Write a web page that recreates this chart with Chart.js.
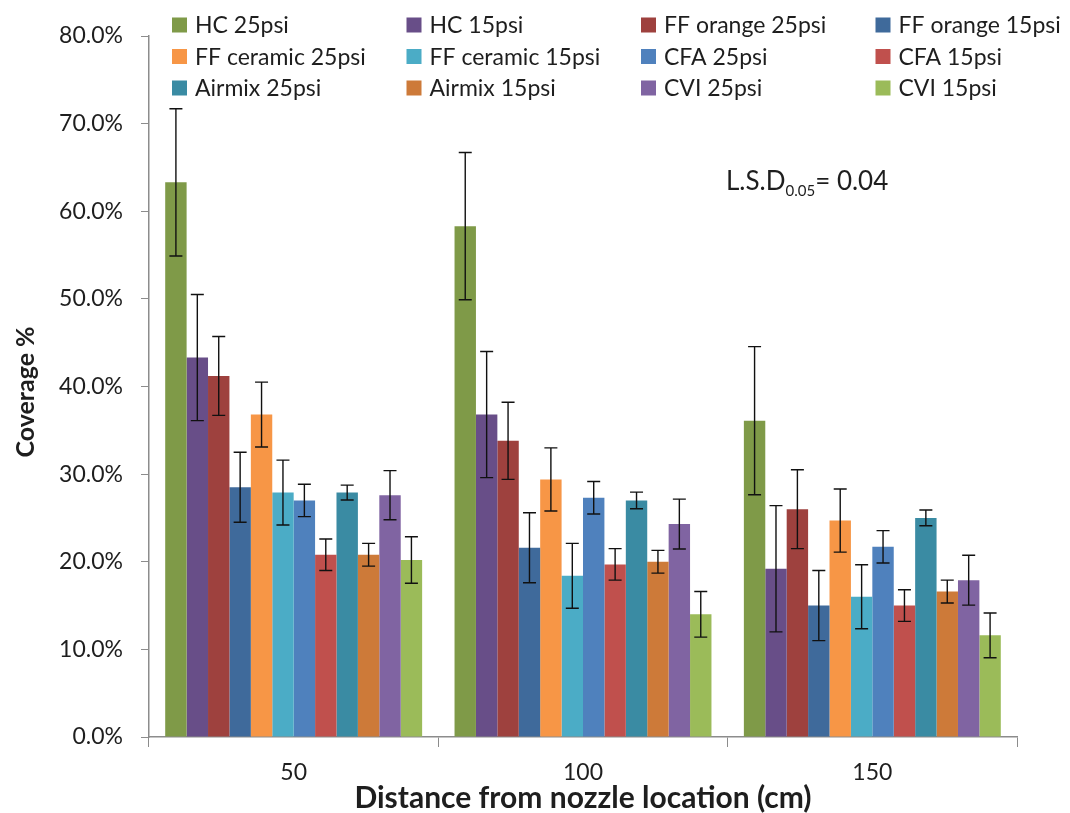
<!DOCTYPE html>
<html>
<head>
<meta charset="utf-8">
<script src="https://cdn.jsdelivr.net/npm/chart.js@4.4.1/dist/chart.umd.min.js"></script>
<style>
  html, body { margin: 0; padding: 0; background: #fff; }
  #wrap { width: 1070px; height: 813px; }
</style>
</head>
<body>
<div id="wrap"><canvas id="coverageChart" width="1070" height="813"></canvas></div>
<script>
// ระยะห่างจากหัวฉีด (cm)
const distances = ['50', '100', '150'];

const seriesNames = [
    'HC 25psi', 'HC 15psi', 'FF orange 25psi', 'FF orange 15psi',
    'FF ceramic 25psi', 'FF ceramic 15psi', 'CFA 25psi', 'CFA 15psi',
    'Airmix 25psi', 'Airmix 15psi', 'CVI 25psi', 'CVI 15psi'
];

const seriesColors = [
    '#7F9A48', '#684E88', '#9E413E', '#3F6A9B',
    '#F79646', '#4BACC6', '#4F81BD', '#C0504D',
    '#3A8BA3', '#CD7A39', '#8064A2', '#9BBB59'
];

// ค่า coverage (%) ของแต่ละชุดที่ระยะ 50 / 100 / 150 cm
const cov50  = [63.3, 43.3, 41.2, 28.5, 36.8, 27.9, 27.0, 20.8, 27.9, 20.8, 27.6, 20.2];
const cov100 = [58.3, 36.8, 33.8, 21.6, 29.4, 18.4, 27.3, 19.7, 27.0, 20.0, 24.3, 14.0];
const cov150 = [36.1, 19.2, 26.0, 15.0, 24.7, 16.0, 21.7, 15.0, 25.0, 16.6, 17.9, 11.6];

// ค่า error bar (+/-)
const err50  = [8.4, 7.2, 4.5, 4.0, 3.7, 3.7, 1.85, 1.8, 0.85, 1.3, 2.8, 2.65];
const err100 = [8.4, 7.2, 4.4, 4.0, 3.6, 3.7, 1.85, 1.8, 0.95, 1.3, 2.85, 2.6];
const err150 = [8.45, 7.2, 4.5, 4.0, 3.6, 3.65, 1.85, 1.8, 0.9, 1.3, 2.85, 2.55];

const yTitle = 'Coverage %';
const lsdLabel = 'L.S.D';
const lsdSub = '0.05';
const lsdValue = '= 0.04';

const FONT = 'Lato, "Open Sans", sans-serif';
const TEXT = '#1e1e1e';
const AXIS = '#8c8c8c';

// สร้าง datasets จากอาร์เรย์ด้านบน
const datasets = seriesNames.map((name, i) => ({
    label: name,
    data: [cov50[i], cov100[i], cov150[i]],
    errors: [err50[i], err100[i], err150[i]],
    backgroundColor: seriesColors[i],
    borderWidth: 0
}));

// วาด error bar ด้วยสเกลของ Chart.js
const errorBarPlugin = {
    id: 'errorBars',
    afterDatasetsDraw(chart) {
        const ctx = chart.ctx;
        const yScale = chart.scales.y;
        ctx.save();
        ctx.strokeStyle = '#111';
        ctx.lineWidth = 1.4;
        chart.data.datasets.forEach((ds, di) => {
            const meta = chart.getDatasetMeta(di);
            meta.data.forEach((bar, j) => {
                const v = ds.data[j];
                const e = ds.errors[j];
                const yTop = yScale.getPixelForValue(v + e);
                const yBot = yScale.getPixelForValue(v - e);
                const x = bar.x;
                const cap = 6.5;
                ctx.beginPath();
                ctx.moveTo(x, yTop); ctx.lineTo(x, yBot);
                ctx.moveTo(x - cap, yTop); ctx.lineTo(x + cap, yTop);
                ctx.moveTo(x - cap, yBot); ctx.lineTo(x + cap, yBot);
                ctx.stroke();
            });
        });
        ctx.restore();
    }
};

// legend 4 คอลัมน์ ซ้อนบนพื้นที่กราฟ + ชื่อแกน y + ข้อความ L.S.D
const overlayPlugin = {
    id: 'overlay',
    afterDraw(chart) {
        const ctx = chart.ctx;
        ctx.save();
        ctx.font = '23px ' + FONT;
        ctx.textBaseline = 'middle';
        ctx.textAlign = 'left';
        chart.data.datasets.forEach((ds, i) => {
            const col = i % 4, row = Math.floor(i / 4);
            const x = 172 + col * 234.5;
            const y = 25 + row * 31.5;
            ctx.fillStyle = ds.backgroundColor;
            ctx.fillRect(x, y - 7.5, 15, 15);
            ctx.fillStyle = TEXT;
            ctx.fillText(ds.label, x + 23, y + 1);
        });

        // ชื่อแกน y (หมุน 90 องศา)
        ctx.save();
        ctx.translate(26, 392);
        ctx.rotate(-Math.PI / 2);
        ctx.textAlign = 'center';
        ctx.font = 'bold 25px ' + FONT;
        ctx.fillText(yTitle, 0, 0);
        ctx.restore();

        // L.S.D0.05 = 0.04
        let x = 726;
        const base = 190;
        ctx.textBaseline = 'alphabetic';
        ctx.font = '26px ' + FONT;
        ctx.fillText(lsdLabel, x, base);
        x += ctx.measureText(lsdLabel).width;
        ctx.font = '15px ' + FONT;
        ctx.fillText(lsdSub, x, base + 6);
        x += ctx.measureText(lsdSub).width;
        ctx.font = '26px ' + FONT;
        ctx.fillText(lsdValue, x, base);
        ctx.restore();
    }
};

new Chart(document.getElementById('coverageChart'), {
    type: 'bar',
    data: { labels: distances, datasets: datasets },
    options: {
        responsive: false,
        animation: false,
        events: [],
        layout: { padding: { top: 36, right: 53, left: 0, bottom: 0 } },
        datasets: { bar: { categoryPercentage: 0.888, barPercentage: 1.0 } },
        plugins: { legend: { display: false }, tooltip: { enabled: false } },
        scales: {
            x: {
                offset: true,
                grid: { offset: true, drawOnChartArea: false, drawTicks: true, tickLength: 10, color: AXIS },
                border: { color: AXIS, width: 1.5 },
                ticks: { color: TEXT, font: { family: FONT, size: 23 }, padding: 12 },
                title: {
                    display: true,
                    text: 'Distance from nozzle location (cm)',
                    color: TEXT,
                    font: { family: FONT, size: 30, weight: 'bold', lineHeight: 1.0 },
                    padding: { top: 0, bottom: 0 }
                },
                afterFit: (scale) => { scale.height = 76; }
            },
            y: {
                min: 0,
                max: 80,
                ticks: {
                    stepSize: 10,
                    color: TEXT,
                    font: { family: FONT, size: 23 },
                    padding: 18,
                    callback: (v) => v.toFixed(1) + '%'
                },
                grid: { drawOnChartArea: false, drawTicks: true, tickLength: 8, color: AXIS },
                border: { color: AXIS, width: 1.5 },
                title: { display: false },
                afterFit: (scale) => { scale.width = 149; }
            }
        }
    },
    plugins: [errorBarPlugin, overlayPlugin]
});
</script>
</body>
</html>
